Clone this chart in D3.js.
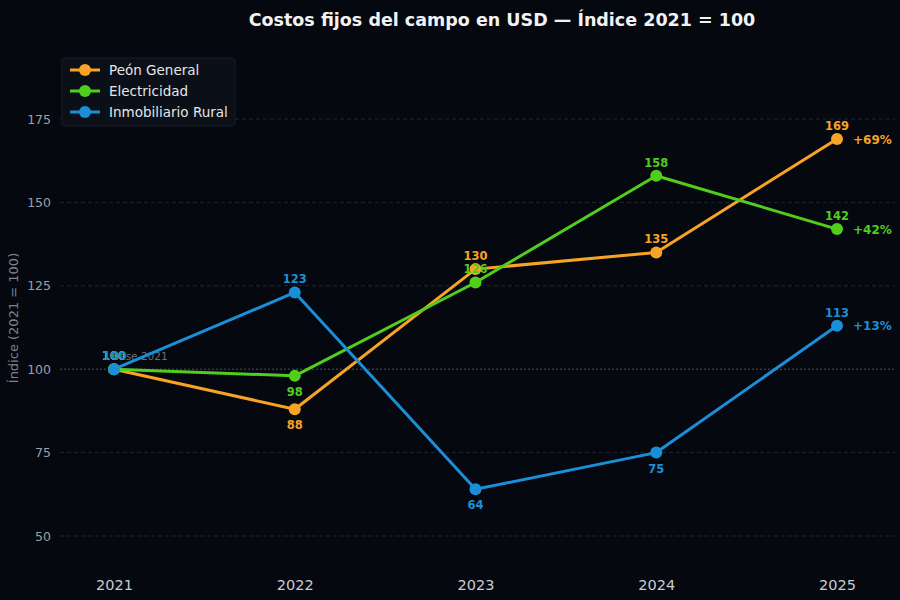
<!DOCTYPE html>
<html><head><meta charset="utf-8">
<script src="https://cdn.jsdelivr.net/npm/d3@7"></script>
<style>
html,body{margin:0;padding:0;background:#05080f;}
svg{display:block;font-family:"DejaVu Sans",sans-serif;}
</style></head>
<body>
<script>
const years = ["2021","2022","2023","2024","2025"];
const seriesNames = ["Peón General","Electricidad","Inmobiliario Rural"];
const peonGeneral = [100, 88, 130, 135, 169];
const electricidad = [100, 98, 126, 158, 142];
const inmobiliario = [100, 123, 64, 75, 113];
const labelPos = [
  ["above","below","above","above","above"],
  ["above","below","above","above","above"],
  ["above","above","below","below","above"]
];
const yTicks = [50, 75, 100, 125, 150, 175];
const colors = ["#f7a325", "#4fcf1c", "#1a8fd8"];
const allValues = [peonGeneral, electricidad, inmobiliario];

const W = 900, H = 600;
const svg = d3.select("body").append("svg").attr("width", W).attr("height", H);
svg.append("rect").attr("width", W).attr("height", H).attr("fill", "#05080f");

const x = d3.scalePoint().domain(years).range([114, 837]);
const y = d3.scaleLinear().domain([50, 175]).range([536, 119]);

// grid
const grid = svg.append("g");
yTicks.forEach(t => {
  grid.append("line").attr("x1", 60).attr("x2", 895)
    .attr("y1", y(t)).attr("y2", y(t))
    .attr("stroke", t === 100 ? "#4a5262" : "#262d3a")
    .attr("stroke-width", t === 100 ? 1 : 0.8)
    .attr("stroke-dasharray", t === 100 ? "2,2" : "4,3");
});

// y axis
const yAxis = svg.append("g").attr("transform", "translate(60,0)")
  .call(d3.axisLeft(y).tickValues(yTicks).tickSize(0).tickPadding(9));
yAxis.select(".domain").remove();
yAxis.selectAll("text").attr("fill", "#9aa0a8").style("font-size", "12.5px").style("font-family", "DejaVu Sans");

// x axis
const xAxis = svg.append("g").attr("transform", "translate(0,572)")
  .call(d3.axisBottom(x).tickSize(0).tickPadding(8));
xAxis.select(".domain").remove();
xAxis.selectAll("text").attr("fill", "#c8ccd2").style("font-size", "14.5px").style("font-family", "DejaVu Sans");

// y label
svg.append("text").attr("transform", "translate(18,318) rotate(-90)")
  .attr("text-anchor", "middle").attr("fill", "#7d838c").style("font-size", "13px")
  .text("Índice (2021 = 100)");

// title
svg.append("text").attr("x", 502).attr("y", 26).attr("text-anchor", "middle")
  .attr("fill", "#f2f2f2").style("font-size", "17.5px").style("font-weight", "bold")
  .text("Costos fijos del campo en USD — Índice 2021 = 100");

// base label
svg.append("text").attr("x", 112).attr("y", 360).attr("fill", "#6a707a")
  .style("font-size", "10.5px").text("Base 2021");

const line = d3.line().x((d, i) => x(years[i])).y(d => y(d));

allValues.forEach((vals, s) => {
  const g = svg.append("g");
  g.append("path").datum(vals).attr("d", line).attr("fill", "none")
    .attr("stroke", colors[s]).attr("stroke-width", 3).attr("stroke-linejoin", "round");
  g.selectAll("circle").data(vals).enter().append("circle")
    .attr("cx", (d, i) => x(years[i])).attr("cy", d => y(d)).attr("r", 6)
    .attr("fill", colors[s]);
  g.selectAll("text.v").data(vals).enter().append("text").attr("class", "v")
    .attr("x", (d, i) => x(years[i]))
    .attr("y", (d, i) => labelPos[s][i] === "above" ? y(d) - 9 : y(d) + 20)
    .attr("text-anchor", "middle").attr("fill", colors[s])
    .style("font-size", "11.5px").style("font-weight", "bold")
    .text(d => d);
  const last = vals[vals.length - 1];
  g.append("text").attr("x", 853).attr("y", y(last) + 4.5)
    .attr("fill", colors[s]).style("font-size", "12px").style("font-weight", "bold")
    .text("+" + (last - vals[0]) + "%");
});

// legend
const lg = svg.append("g");
lg.append("rect").attr("x", 62).attr("y", 58).attr("width", 173).attr("height", 68)
  .attr("rx", 3).attr("fill", "#0a0f18").attr("stroke", "#161c27").attr("stroke-width", 1);
seriesNames.forEach((n, i) => {
  const yy = 70 + i * 21;
  lg.append("line").attr("x1", 70).attr("x2", 100).attr("y1", yy).attr("y2", yy)
    .attr("stroke", colors[i]).attr("stroke-width", 3);
  lg.append("circle").attr("cx", 85).attr("cy", yy).attr("r", 6).attr("fill", colors[i]);
  lg.append("text").attr("x", 109).attr("y", yy + 5).attr("fill", "#e6e6e6")
    .style("font-size", "13.5px").text(n);
});
</script>
</body></html>
